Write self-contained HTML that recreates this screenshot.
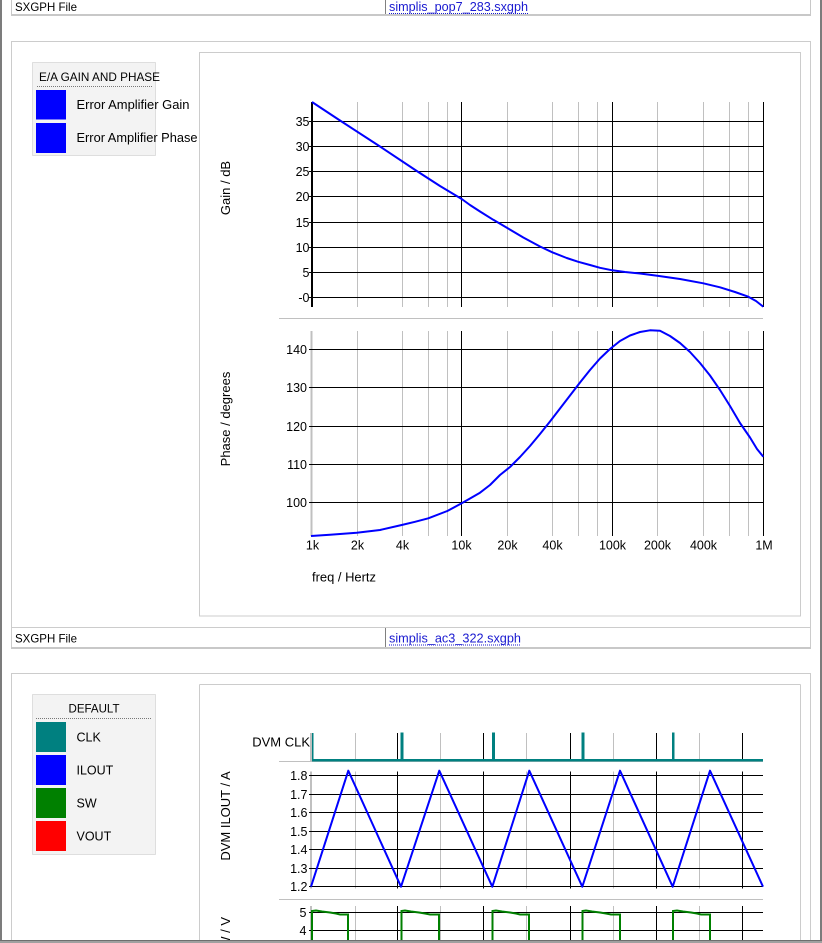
<!DOCTYPE html>
<html><head><meta charset="utf-8">
<style>
html,body{margin:0;padding:0;background:#fff;overflow:hidden;width:822px;height:943px}
svg{position:absolute;left:0;top:0;display:block}
text{font-family:"Liberation Sans",Arial,sans-serif;fill:#000}
</style></head><body>
<svg width="822" height="943" viewBox="0 0 822 943" xmlns="http://www.w3.org/2000/svg">
<rect x="0" y="0" width="822" height="943" fill="#fff"/>
<!-- outer dark borders -->
<rect x="0" y="0" width="2" height="943" fill="#7c7c7c"/>
<rect x="820" y="0" width="2" height="943" fill="#7c7c7c"/>

<!-- top row -->
<line x1="11.5" y1="0" x2="11.5" y2="16" stroke="#c8c8c8"/>
<line x1="810.5" y1="0" x2="810.5" y2="16" stroke="#c8c8c8"/>
<rect x="11" y="14" width="800" height="2" fill="#c8c8c8"/>
<line x1="385.5" y1="0" x2="385.5" y2="14" stroke="#808080"/>
<text x="15" y="11" font-size="12" textLength="62" lengthAdjust="spacingAndGlyphs">SXGPH File</text>
<text x="389" y="11" font-size="12.5" textLength="139" lengthAdjust="spacingAndGlyphs" style="fill:#1a1ad0">simplis_pop7_283.sxgph</text>
<line x1="389" y1="13.5" x2="528" y2="13.5" stroke="#1a1ad0" stroke-dasharray="1,1"/>

<!-- panel 1 -->
<rect x="11.5" y="41.5" width="799" height="607" fill="none" stroke="#cccccc"/>
<rect x="199.5" y="52.5" width="601" height="563.5" fill="none" stroke="#cccccc"/>
<line x1="11" y1="627.5" x2="811" y2="627.5" stroke="#cccccc"/>
<rect x="11" y="647" width="800" height="2" fill="#c8c8c8"/>
<line x1="385.5" y1="628" x2="385.5" y2="647" stroke="#808080"/>
<text x="15" y="642.5" font-size="12" textLength="62" lengthAdjust="spacingAndGlyphs">SXGPH File</text>
<text x="389" y="642.5" font-size="12.5" textLength="132" lengthAdjust="spacingAndGlyphs" style="fill:#1a1ad0">simplis_ac3_322.sxgph</text>
<line x1="389" y1="645" x2="521" y2="645" stroke="#1a1ad0" stroke-dasharray="1,1"/>

<!-- legend 1 -->
<rect x="32.5" y="62.5" width="123" height="93" fill="#f3f3f3" stroke="#c4c4c4" stroke-dasharray="1,1"/>
<text x="39" y="81" font-size="12" textLength="121" lengthAdjust="spacingAndGlyphs">E/A GAIN AND PHASE</text>
<line x1="37" y1="86.5" x2="152" y2="86.5" stroke="#777" stroke-dasharray="1,1"/>
<rect x="36" y="90" width="30" height="29.5" fill="#0000ff"/>
<rect x="36" y="123" width="30" height="30" fill="#0000ff"/>
<text x="76.5" y="109" font-size="12.5" textLength="113" lengthAdjust="spacingAndGlyphs">Error Amplifier Gain</text>
<text x="76.5" y="142" font-size="12.5" textLength="121" lengthAdjust="spacingAndGlyphs">Error Amplifier Phase</text>

<!-- ===== GAIN PLOT ===== -->
<g stroke="#c0c0c0" stroke-width="1">
<line x1="357.5" y1="102" x2="357.5" y2="307"/><line x1="402.5" y1="102" x2="402.5" y2="307"/>
<line x1="428.5" y1="102" x2="428.5" y2="307"/><line x1="447.5" y1="102" x2="447.5" y2="307"/>
<line x1="507.5" y1="102" x2="507.5" y2="307"/><line x1="552.5" y1="102" x2="552.5" y2="307"/>
<line x1="578.5" y1="102" x2="578.5" y2="307"/><line x1="597.5" y1="102" x2="597.5" y2="307"/>
<line x1="657.5" y1="102" x2="657.5" y2="307"/><line x1="703.5" y1="102" x2="703.5" y2="307"/>
<line x1="729.5" y1="102" x2="729.5" y2="307"/><line x1="748.5" y1="102" x2="748.5" y2="307"/>
</g>
<g stroke="#000" stroke-width="1">
<line x1="461.5" y1="102" x2="461.5" y2="307"/><line x1="612.5" y1="102" x2="612.5" y2="307"/>
<line x1="763.5" y1="102" x2="763.5" y2="307"/>
<line x1="309" y1="121.5" x2="763.5" y2="121.5"/><line x1="309" y1="146.5" x2="763.5" y2="146.5"/>
<line x1="309" y1="171.5" x2="763.5" y2="171.5"/><line x1="309" y1="196.5" x2="763.5" y2="196.5"/>
<line x1="309" y1="222.5" x2="763.5" y2="222.5"/><line x1="309" y1="247.5" x2="763.5" y2="247.5"/>
<line x1="309" y1="272.5" x2="763.5" y2="272.5"/><line x1="309" y1="297.5" x2="763.5" y2="297.5"/>
</g>
<rect x="311" y="102" width="2" height="205" fill="#000"/>
<g font-size="12.5" text-anchor="end">
<text x="309.5" y="126">35</text><text x="309.5" y="151">30</text><text x="309.5" y="176">25</text>
<text x="309.5" y="201">20</text><text x="309.5" y="227">15</text><text x="309.5" y="252">10</text>
<text x="309.5" y="277">5</text><text x="309.5" y="302">-0</text>
</g>
<text transform="translate(230,188) rotate(-90)" font-size="13" text-anchor="middle">Gain / dB</text>
<polyline fill="none" stroke="#0000ff" stroke-width="2" stroke-linejoin="round" points="312,102 340,120.5 380,146.5 416,170.5 440,186 461.7,199 470,205 480,211.5 493.3,219.8 507.3,228 523.3,237.5 540,246.5 552.3,252.3 566.7,258 578.3,261.8 590,265 600,267.8 612.3,270.3 625,272 640,273.5 657.3,275.7 680,279 703.3,283.3 720,287.3 735,292 748.3,296.7 756,301 763.3,306.7"/>

<!-- separator -->
<line x1="279" y1="318.5" x2="763" y2="318.5" stroke="#c0c0c0"/>

<!-- ===== PHASE PLOT ===== -->
<g stroke="#c0c0c0" stroke-width="1">
<line x1="357.5" y1="331" x2="357.5" y2="536"/><line x1="402.5" y1="331" x2="402.5" y2="536"/>
<line x1="428.5" y1="331" x2="428.5" y2="536"/><line x1="447.5" y1="331" x2="447.5" y2="536"/>
<line x1="507.5" y1="331" x2="507.5" y2="536"/><line x1="552.5" y1="331" x2="552.5" y2="536"/>
<line x1="578.5" y1="331" x2="578.5" y2="536"/><line x1="597.5" y1="331" x2="597.5" y2="536"/>
<line x1="657.5" y1="331" x2="657.5" y2="536"/><line x1="703.5" y1="331" x2="703.5" y2="536"/>
<line x1="729.5" y1="331" x2="729.5" y2="536"/><line x1="748.5" y1="331" x2="748.5" y2="536"/>
</g>
<rect x="310.5" y="331" width="2" height="205" fill="#c0c0c0"/>
<g stroke="#000" stroke-width="1">
<line x1="461.5" y1="331" x2="461.5" y2="536"/><line x1="612.5" y1="331" x2="612.5" y2="536"/>
<line x1="763.5" y1="331" x2="763.5" y2="536"/>
<line x1="309" y1="349.5" x2="763.5" y2="349.5"/><line x1="309" y1="387.5" x2="763.5" y2="387.5"/>
<line x1="309" y1="426.5" x2="763.5" y2="426.5"/><line x1="309" y1="464.5" x2="763.5" y2="464.5"/>
<line x1="309" y1="502.5" x2="763.5" y2="502.5"/>
</g>
<g font-size="12.5" text-anchor="end">
<text x="307" y="354">140</text><text x="307" y="392">130</text><text x="307" y="431">120</text>
<text x="307" y="469">110</text><text x="307" y="507">100</text>
</g>
<text transform="translate(230,419) rotate(-90)" font-size="13" text-anchor="middle">Phase / degrees</text>
<polyline fill="none" stroke="#0000ff" stroke-width="2" stroke-linejoin="round" points="311,536 330,534.8 356.7,532.7 380,530 401.7,525 415,521.8 428.3,518.3 447.3,511 461.7,503.3 470,498.5 480,492.7 490,485 500,475 510,467 520,457 530,446 540,434 550,421.5 560,408.5 570,395.5 580,382.5 590,370 600,358.5 610,349 620,341 630,335.5 640,332 650,330.3 660,330.8 670,336 680,343 690,352 700,363 710,375.5 720,390 730,406 740,423 750,437.5 757,449 763.3,456.7"/>
<g font-size="12.5" text-anchor="middle">
<text x="312.5" y="549.5">1k</text><text x="357.5" y="549.5">2k</text><text x="402.5" y="549.5">4k</text>
<text x="461.5" y="549.5">10k</text><text x="507.5" y="549.5">20k</text><text x="552.5" y="549.5">40k</text>
<text x="612.5" y="549.5">100k</text><text x="657.5" y="549.5">200k</text><text x="703.5" y="549.5">400k</text>
<text x="764" y="549.5">1M</text>
</g>
<text x="312" y="581.5" font-size="13" textLength="64" lengthAdjust="spacingAndGlyphs">freq / Hertz</text>

<!-- ===== PANEL 2 ===== -->
<line x1="11.5" y1="673.5" x2="11.5" y2="943" stroke="#cccccc"/>
<line x1="810.5" y1="673.5" x2="810.5" y2="943" stroke="#cccccc"/>
<line x1="11" y1="673.5" x2="811" y2="673.5" stroke="#cccccc"/>
<line x1="199.5" y1="684.5" x2="199.5" y2="943" stroke="#cccccc"/>
<line x1="800.5" y1="684.5" x2="800.5" y2="943" stroke="#cccccc"/>
<line x1="199.5" y1="684.5" x2="800.5" y2="684.5" stroke="#cccccc"/>

<!-- legend 2 -->
<rect x="32.5" y="694.5" width="123" height="160" fill="#f3f3f3" stroke="#c4c4c4" stroke-dasharray="1,1"/>
<text x="94" y="712.5" font-size="12" text-anchor="middle" textLength="51" lengthAdjust="spacingAndGlyphs">DEFAULT</text>
<line x1="36" y1="718.5" x2="152" y2="718.5" stroke="#777" stroke-dasharray="1,1"/>
<rect x="36" y="722" width="30" height="30" fill="#008080"/>
<rect x="36" y="755" width="30" height="30" fill="#0000ff"/>
<rect x="36" y="788" width="30" height="30" fill="#008000"/>
<rect x="36" y="821" width="30" height="30" fill="#ff0000"/>
<g font-size="12.5">
<text x="76.5" y="741.5">CLK</text><text x="76.5" y="774.5">ILOUT</text>
<text x="76.5" y="807.5">SW</text><text x="76.5" y="840.5">VOUT</text>
</g>

<!-- CLK section -->
<g stroke="#c0c0c0"><line x1="355.5" y1="733" x2="355.5" y2="761"/><line x1="440.5" y1="733" x2="440.5" y2="761"/>
<line x1="526.5" y1="733" x2="526.5" y2="761"/><line x1="613.5" y1="733" x2="613.5" y2="761"/><line x1="699.5" y1="733" x2="699.5" y2="761"/></g>
<g stroke="#000"><line x1="397.5" y1="733" x2="397.5" y2="761"/><line x1="483.5" y1="733" x2="483.5" y2="761"/>
<line x1="570.5" y1="733" x2="570.5" y2="761"/><line x1="656.5" y1="733" x2="656.5" y2="761"/><line x1="742.5" y1="733" x2="742.5" y2="761"/></g>
<rect x="310" y="733" width="2" height="28" fill="#c0c0c0"/>
<line x1="279" y1="761.5" x2="763" y2="761.5" stroke="#c0c0c0"/>
<rect x="312" y="759" width="451" height="2.5" fill="#008080"/>
<rect x="312" y="733" width="1.5" height="28" fill="#008080"/>
<rect x="400.5" y="732.5" width="3" height="28.5" fill="#008080"/>
<rect x="492" y="732.5" width="3" height="28.5" fill="#008080"/>
<rect x="581.5" y="732.5" width="3" height="28.5" fill="#008080"/>
<rect x="672" y="732.5" width="2.5" height="28.5" fill="#008080"/>
<text x="310" y="746.5" font-size="13" text-anchor="end">DVM CLK</text>

<!-- ILOUT section -->
<g stroke="#c0c0c0"><line x1="355.5" y1="771.5" x2="355.5" y2="888.5"/><line x1="440.5" y1="771.5" x2="440.5" y2="888.5"/>
<line x1="526.5" y1="771.5" x2="526.5" y2="888.5"/><line x1="613.5" y1="771.5" x2="613.5" y2="888.5"/><line x1="699.5" y1="771.5" x2="699.5" y2="888.5"/></g>
<rect x="310" y="771.5" width="2" height="117" fill="#c0c0c0"/>
<g stroke="#000"><line x1="397.5" y1="771.5" x2="397.5" y2="888.5"/><line x1="483.5" y1="771.5" x2="483.5" y2="888.5"/>
<line x1="570.5" y1="771.5" x2="570.5" y2="888.5"/><line x1="656.5" y1="771.5" x2="656.5" y2="888.5"/><line x1="742.5" y1="771.5" x2="742.5" y2="888.5"/>
<line x1="309" y1="775.5" x2="763" y2="775.5"/><line x1="309" y1="794.5" x2="763" y2="794.5"/>
<line x1="309" y1="812.5" x2="763" y2="812.5"/><line x1="309" y1="831.5" x2="763" y2="831.5"/>
<line x1="309" y1="849.5" x2="763" y2="849.5"/><line x1="309" y1="868.5" x2="763" y2="868.5"/>
<line x1="309" y1="886.5" x2="763" y2="886.5"/></g>
<g font-size="12.5" text-anchor="end">
<text x="307.5" y="780">1.8</text><text x="307.5" y="799">1.7</text><text x="307.5" y="817">1.6</text>
<text x="307.5" y="836">1.5</text><text x="307.5" y="854">1.4</text><text x="307.5" y="873">1.3</text>
<text x="307.5" y="891">1.2</text>
</g>
<text transform="translate(230,816) rotate(-90)" font-size="13" text-anchor="middle">DVM ILOUT / A</text>
<polyline fill="none" stroke="#0000ff" stroke-width="2" stroke-linejoin="round" points="311,886.7 348.3,770.7 401,886.7 439.3,770.7 492.3,886.7 529.3,770.7 582.3,886.7 620,770.7 672.7,886.7 710,770.7 763,886.7"/>
<line x1="279" y1="899.5" x2="763" y2="899.5" stroke="#c0c0c0"/>

<!-- SW section -->
<g stroke="#c0c0c0"><line x1="355.5" y1="906" x2="355.5" y2="943"/><line x1="440.5" y1="906" x2="440.5" y2="943"/>
<line x1="526.5" y1="906" x2="526.5" y2="943"/><line x1="613.5" y1="906" x2="613.5" y2="943"/><line x1="699.5" y1="906" x2="699.5" y2="943"/></g>
<rect x="310" y="906" width="2" height="37" fill="#c0c0c0"/>
<g stroke="#000"><line x1="397.5" y1="906" x2="397.5" y2="943"/><line x1="483.5" y1="906" x2="483.5" y2="943"/>
<line x1="570.5" y1="906" x2="570.5" y2="943"/><line x1="656.5" y1="906" x2="656.5" y2="943"/><line x1="742.5" y1="906" x2="742.5" y2="943"/>
<line x1="309" y1="912.5" x2="763" y2="912.5"/><line x1="309" y1="930.5" x2="763" y2="930.5"/></g>
<g font-size="12.5" text-anchor="end"><text x="306.5" y="917">5</text><text x="306.5" y="935">4</text></g>
<text transform="translate(230,917) rotate(-90)" font-size="13" text-anchor="end">DVM SW / V</text>
<g fill="none" stroke="#008000" stroke-width="2" stroke-linejoin="miter">
<polyline points="312,945 312,911 316,910.5 322,911.5 330,912.5 336,913.5 340,914.5 348,914.5 348,945"/>
<polyline points="401.5,945 401.5,911 405,910.5 411,911.5 419,912.5 425,913.5 430,914.5 439,914.5 439,945"/>
<polyline points="492.5,945 492.5,911 496,910.5 502,911.5 510,912.5 516,913.5 520,914.5 529,914.5 529,945"/>
<polyline points="582.5,945 582.5,911 586,910.5 592,911.5 600,912.5 606,913.5 611,914.5 620,914.5 620,945"/>
<polyline points="673,945 673,911 677,910.5 683,911.5 691,912.5 697,913.5 701,914.5 710,914.5 710,945"/>
</g>

<!-- bottom dark bar -->
<rect x="0" y="940" width="822" height="3" fill="#a0a0a0"/>
<rect x="0" y="940" width="822" height="1" fill="#6e6e6e"/>
</svg>
</body></html>
